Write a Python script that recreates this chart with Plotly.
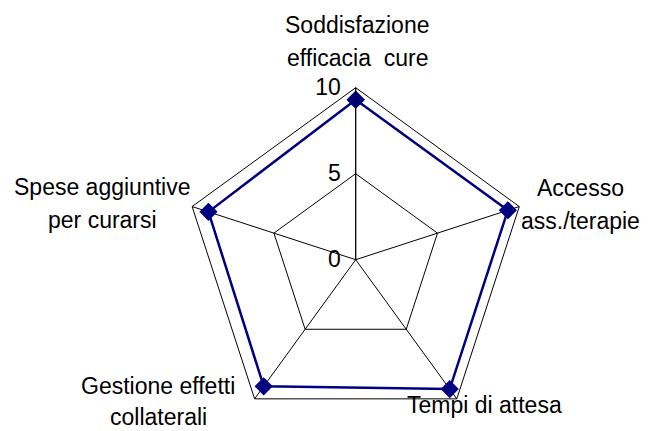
import plotly.graph_objects as go

W, H = 649, 431

# data
categories = [
    "Soddisfazione efficacia cure",
    "Accesso ass./terapie",
    "Tempi di attesa",
    "Gestione effetti collaterali",
    "Spese aggiuntive per curarsi",
]
label_lines = [
    ["Soddisfazione", "efficacia  cure"],
    ["Accesso", "ass./terapie"],
    ["Tempi di attesa"],
    ["Gestione effetti", "collaterali"],
    ["Spese aggiuntive", "per curarsi"],
]
values = [9.3, 9.3, 9.3, 9.1, 9.0]
radial_ticks = [0, 5, 10]

_NAVY = "#000080"
_FONT = "Liberation Sans, Arial, sans-serif"

# label placement in figure pixels (x centre, y of first line middle, line gap)
_label_pos = [(349, 17, 33), (572, 180, 33), (476, 397, 33), (150, 378, 31), (94, 179, 33)]

# polar box in figure pixels
cx, cy, rad = 347.7, 251.7, 172

fig = go.Figure()
fig.add_trace(
    go.Scatterpolar(
        r=values + values[:1],
        theta=categories + categories[:1],
        mode="lines+markers",
        line=dict(color=_NAVY, width=2.5),
        marker=dict(symbol="diamond", size=14, color=_NAVY),
        showlegend=False,
    )
)

annotations = []
for lines, (x, y, gap) in zip(label_lines, _label_pos):
    for i, line in enumerate(lines):
        annotations.append(
            dict(
                text=line,
                x=x / W,
                y=1 - (y + i * gap) / H,
                xref="paper",
                yref="paper",
                xanchor="center",
                yanchor="middle",
                showarrow=False,
                font=dict(size=23, color="black", family=_FONT),
            )
        )

fig.update_layout(
    width=W,
    height=H,
    margin=dict(t=0, b=0, l=0, r=0),
    paper_bgcolor="white",
    plot_bgcolor="white",
    font=dict(family=_FONT, size=22, color="black"),
    annotations=annotations,
    polar=dict(
        domain=dict(
            x=[(cx - rad) / W, (cx + rad) / W],
            y=[max(0, (H - cy - rad) / H), (H - cy + rad) / H],
        ),
        bgcolor="white",
        gridshape="linear",
        angularaxis=dict(
            direction="clockwise",
            rotation=90,
            showticklabels=False,
            ticks="",
            showline=True,
            linecolor="black",
            linewidth=1,
            gridcolor="black",
            gridwidth=1,
        ),
        radialaxis=dict(
            range=[0, 10],
            tickvals=radial_ticks,
            ticktext=[f"{t}\u00a0" for t in radial_ticks],
            angle=90,
            tickangle=90,
            side="counterclockwise",
            ticks="",
            showline=True,
            linecolor="black",
            linewidth=1,
            gridcolor="black",
            gridwidth=1,
            tickfont=dict(size=23, color="black", family=_FONT),
        ),
    ),
)

fig.write_html("out.html")
